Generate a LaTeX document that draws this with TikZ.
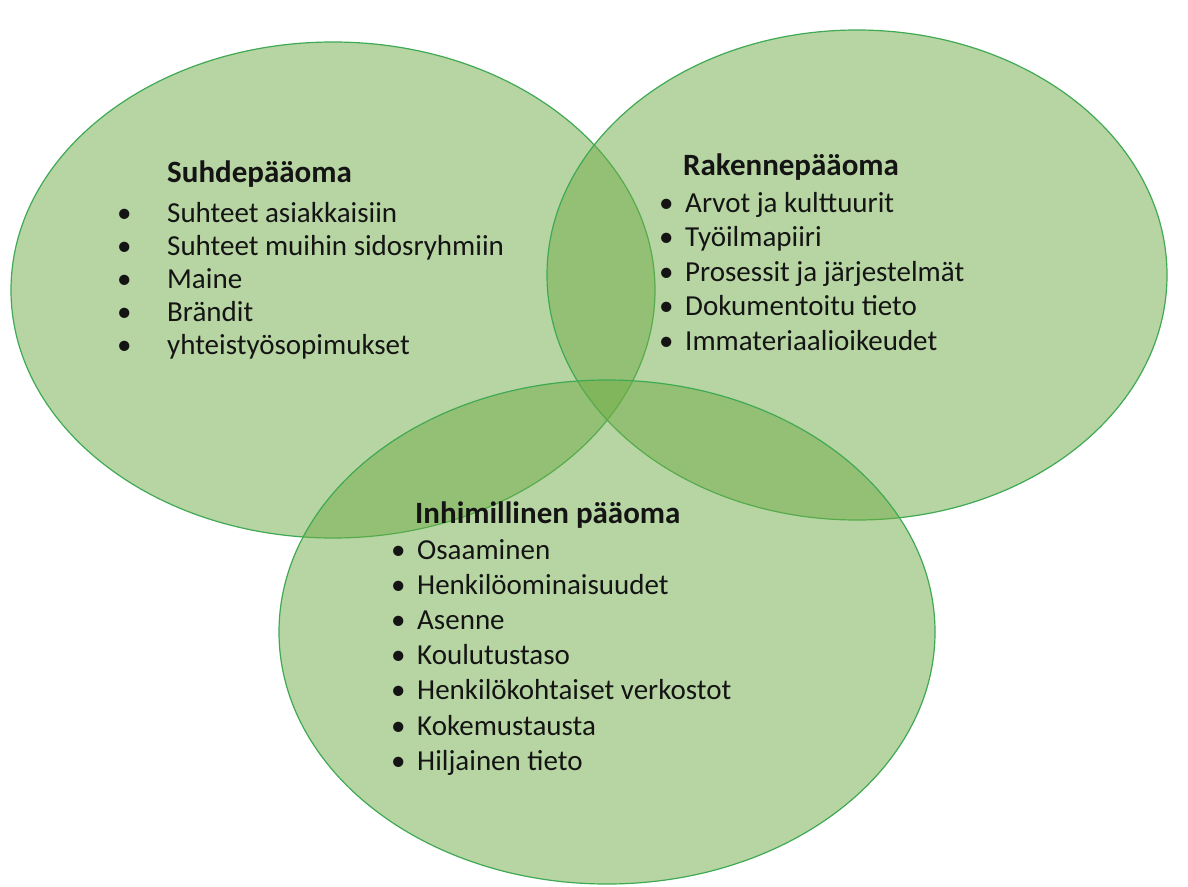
\documentclass[tikz,border=0pt]{standalone}
\usepackage{fontspec}
\setmainfont{Carlito}
\usetikzlibrary{positioning}
\definecolor{VennFill}{HTML}{70AD47}
\definecolor{VennLine}{HTML}{3FA954}
\definecolor{TextDark}{HTML}{141414}
\tikzset{
  venn/.style={fill=VennFill, fill opacity=0.5, draw=VennLine, line width=1.2pt},
  head/.style={anchor=base west, inner sep=0pt, text=TextDark,
    font=\fontsize{31}{36}\selectfont\bfseries},
  item/.style={anchor=base west, inner sep=0pt, text=TextDark,
    font=\fontsize{29}{34}\selectfont},
}

\begin{document}
\begin{tikzpicture}[x=1pt,y=-1pt]
  \useasboundingbox (0,0) rectangle (1188,886);
  \fill[white] (0,0) rectangle (1188,886);

  % the three areas
  \draw[venn] (333,290) ellipse [x radius=322pt, y radius=248pt];
  \draw[venn] (857,275) ellipse [x radius=310pt, y radius=245pt];
  \draw[venn] (607,632) ellipse [x radius=328pt, y radius=252pt];

  % Suhdepaaoma
  \node[head] (suhde) at (167,182) {Suhdepääoma};
  \foreach \t [count=\i] in {Suhteet asiakkaisiin, Suhteet muihin sidosryhmiin,
      Maine, Brändit, yhteistyösopimukset} {
    \node[item] (sb\i) at (117,{222+33*(\i-1)}) {•};
    \node[item] (s\i) at (167,{222+33*(\i-1)}) {\t};
  }

  % Rakennepaaoma
  \node[head] (rakenne) at (683,175) {Rakennepääoma};
  \foreach \t [count=\i] in {Arvot ja kulttuurit, Työilmapiiri,
      Prosessit ja järjestelmät, Dokumentoitu tieto, Immateriaalioikeudet} {
    \node[item] (rb\i) at (659,{212+34.5*(\i-1)}) {•};
    \node[item] (r\i) at (685,{212+34.5*(\i-1)}) {\t};
  }

  % Inhimillinen paaoma
  \node[head] (inhim) at (415,523) {Inhimillinen pääoma};
  \foreach \t [count=\i] in {Osaaminen, Henkilöominaisuudet, Asenne,
      Koulutustaso, Henkilökohtaiset verkostot, Kokemustausta, Hiljainen tieto} {
    \node[item] (hb\i) at (391,{559+35.2*(\i-1)}) {•};
    \node[item] (h\i) at (417,{559+35.2*(\i-1)}) {\t};
  }
\end{tikzpicture}
\end{document}
